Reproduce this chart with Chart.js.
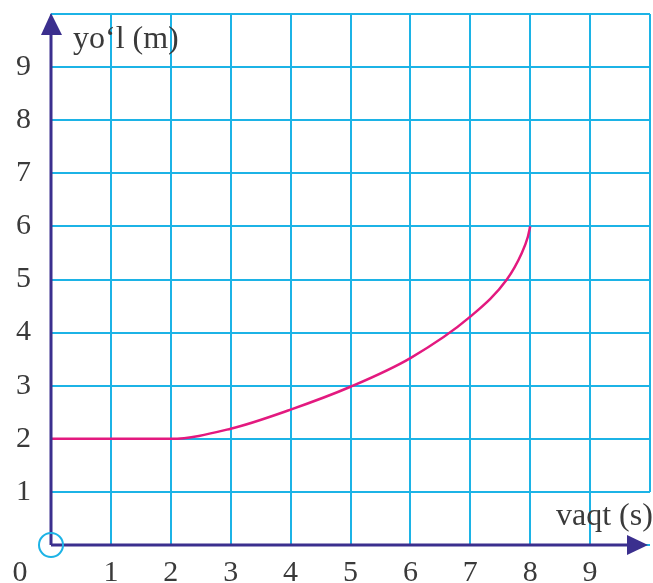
<!DOCTYPE html>
<html>
<head>
<meta charset="utf-8">
<script src="https://cdn.jsdelivr.net/npm/chart.js@4"></script>
<style>
  html, body { margin: 0; padding: 0; background: #fff; }
  #wrap { width: 653px; height: 583px; }
</style>
</head>
<body>
<div id="wrap"><canvas id="chart" width="653" height="583"></canvas></div>
<script>
const times = [0, 1, 2, 3, 4, 5, 6, 7, 7.61, 7.86, 7.96, 8];
const distances = [2, 2, 2, 2.19, 2.55, 2.98, 3.52, 4.3, 5, 5.5, 5.8, 6];
const tickValues = [1, 2, 3, 4, 5, 6, 7, 8, 9];
const xTitle = 'vaqt (s)';
const yTitle = 'yo‘l (m)';

const axisColor = '#3b2f8e';
const gridColor = '#1cb3e6';
const textColor = '#3a3a3a';
const serif = '"Liberation Serif", "DejaVu Serif", serif';

const points = times.map((t, i) => ({ x: t, y: distances[i] }));

// axes with arrows, origin circle, titles
const decor = {
  id: 'decor',
  afterDraw(chart) {
    const ctx = chart.ctx;
    const xs = chart.scales.x, ys = chart.scales.y;
    const x0 = xs.getPixelForValue(0), y0 = ys.getPixelForValue(0);
    ctx.save();
    // right grid line only from y=1 upward
    ctx.strokeStyle = gridColor;
    ctx.lineWidth = 2;
    ctx.beginPath();
    ctx.moveTo(xs.getPixelForValue(10), ys.getPixelForValue(10));
    ctx.lineTo(xs.getPixelForValue(10), ys.getPixelForValue(1));
    ctx.stroke();

    ctx.strokeStyle = axisColor;
    ctx.fillStyle = axisColor;
    ctx.lineWidth = 3;
    ctx.beginPath();
    ctx.moveTo(x0, y0);
    ctx.lineTo(x0, 30);
    ctx.moveTo(x0, y0);
    ctx.lineTo(632, y0);
    ctx.stroke();
    ctx.beginPath();
    ctx.moveTo(x0, 13);
    ctx.lineTo(x0 - 10, 35);
    ctx.lineTo(x0 + 11, 35);
    ctx.closePath();
    ctx.fill();
    ctx.beginPath();
    ctx.moveTo(648, y0);
    ctx.lineTo(627, y0 - 10);
    ctx.lineTo(627, y0 + 10);
    ctx.closePath();
    ctx.fill();

    ctx.strokeStyle = gridColor;
    ctx.lineWidth = 2;
    ctx.beginPath();
    ctx.arc(x0, y0, 12, 0, Math.PI * 2);
    ctx.stroke();

    ctx.fillStyle = textColor;
    ctx.font = '32px ' + serif;
    ctx.textBaseline = 'alphabetic';
    ctx.textAlign = 'left';
    ctx.fillText(yTitle, 73, 48);
    ctx.fillText(xTitle, 556, 525);
    ctx.font = '30px ' + serif;
    ctx.textAlign = 'center';
    ctx.textBaseline = 'middle';
    ctx.fillText('0', 20, y0 + 28);
    ctx.restore();
  }
};

function noPad(scale) {
  scale.paddingTop = 0;
  scale.paddingBottom = 0;
  scale.paddingLeft = 0;
  scale.paddingRight = 0;
}

new Chart(document.getElementById('chart'), {
  type: 'line',
  data: {
    datasets: [{
      data: points,
      borderColor: '#e3197f',
      borderWidth: 2.5,
      pointRadius: 0,
      cubicInterpolationMode: 'monotone',
      fill: false
    }]
  },
  options: {
    responsive: false,
    animation: false,
    layout: { padding: { top: 14, right: 3, left: 0, bottom: 0 } },
    plugins: { legend: { display: false }, tooltip: { enabled: false } },
    scales: {
      x: {
        type: 'linear',
        min: 0,
        max: 10,
        afterFit(scale) { scale.height = 38; noPad(scale); },
        afterBuildTicks(scale) { scale.ticks = [0, ...tickValues, 10].map(v => ({ value: v })); },
        ticks: {
          padding: 10,
          color: textColor,
          font: { family: serif, size: 30 },
          callback: v => tickValues.includes(v) ? String(v) : ''
        },
        grid: {
          color: ctx => (ctx.tick && ctx.tick.value === 10) ? 'rgba(0,0,0,0)' : gridColor,
          lineWidth: 2,
          drawTicks: false
        },
        border: { display: false }
      },
      y: {
        min: 0,
        max: 10,
        afterFit(scale) { scale.width = 51; noPad(scale); },
        afterBuildTicks(scale) { scale.ticks = [0, ...tickValues, 10].map(v => ({ value: v })); },
        ticks: {
          padding: 20,
          color: textColor,
          font: { family: serif, size: 30 },
          callback: v => tickValues.includes(v) ? String(v) : ''
        },
        grid: { color: gridColor, lineWidth: 2, drawTicks: false },
        border: { display: false }
      }
    }
  },
  plugins: [decor]
});
</script>
</body>
</html>
